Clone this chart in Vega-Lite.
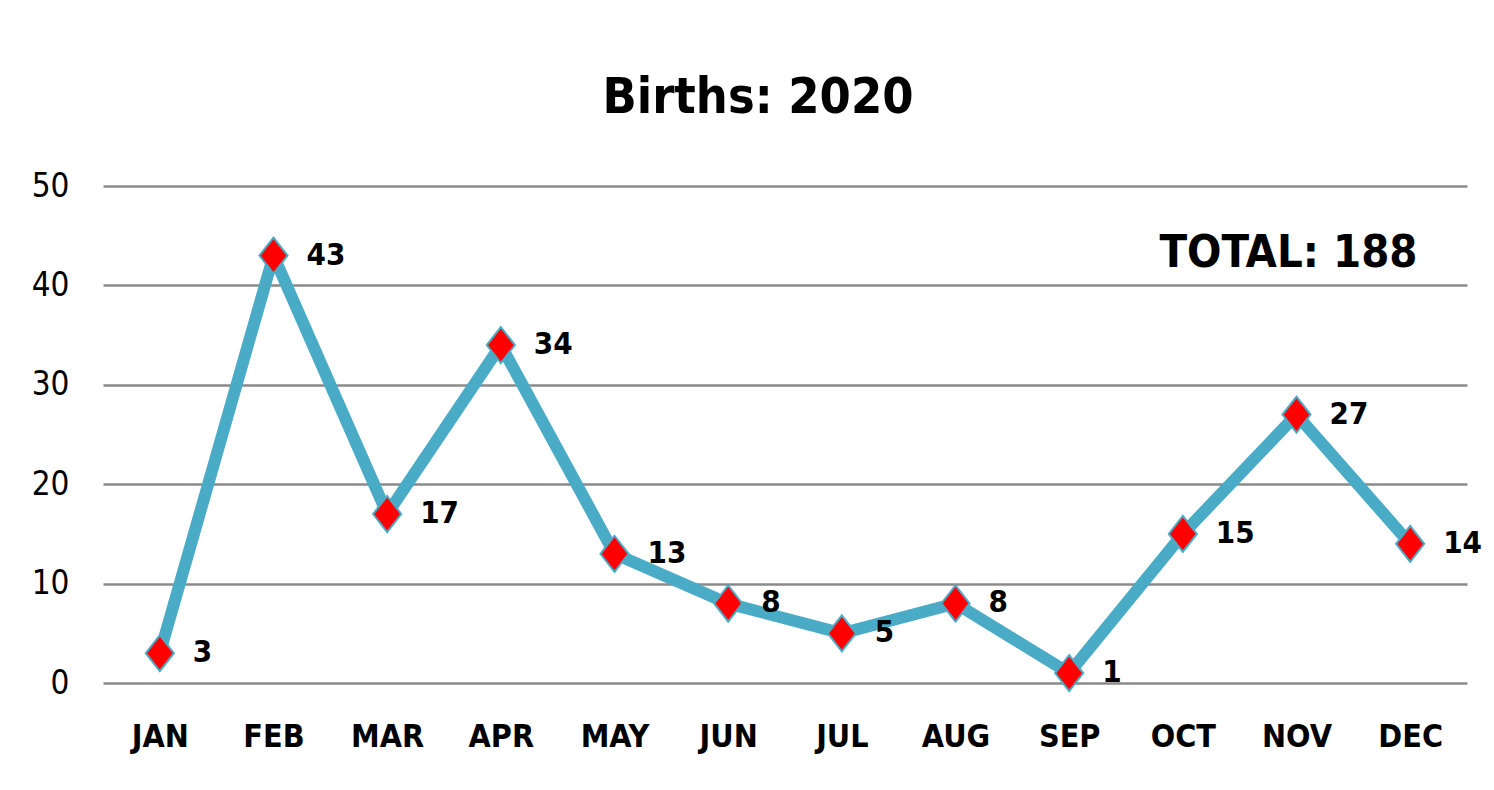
{
  "$schema": "https://vega.github.io/schema/vega-lite/v6.json",
  "autosize": {"type": "none"},
  "width": 1364,
  "height": 497,
  "padding": {"left": 103, "top": 186, "right": 27, "bottom": 107},
  "background": "white",
  "config": {
    "view": {"stroke": null},
    "font": "DejaVu Sans Condensed, sans-serif"
  },
  "title": {
    "text": "Births: 2020",
    "fontSize": 50,
    "fontWeight": "bold",
    "color": "#000000",
    "anchor": "middle",
    "frame": "group",
    "baseline": "alphabetic",
    "offset": 7,
    "dx": -27
  },
  "data": {
    "values": [
      {"month": "JAN", "births": 3},
      {"month": "FEB", "births": 43},
      {"month": "MAR", "births": 17},
      {"month": "APR", "births": 34},
      {"month": "MAY", "births": 13},
      {"month": "JUN", "births": 8},
      {"month": "JUL", "births": 5},
      {"month": "AUG", "births": 8},
      {"month": "SEP", "births": 1},
      {"month": "OCT", "births": 15},
      {"month": "NOV", "births": 27},
      {"month": "DEC", "births": 14}
    ]
  },
  "encoding": {
    "x": {
      "field": "month",
      "type": "ordinal",
      "sort": null,
      "scale": {"type": "point", "padding": 0.5},
      "axis": {
        "title": null,
        "domain": false,
        "ticks": false,
        "grid": false,
        "labelAngle": 0,
        "labelFontSize": 32,
        "labelFontWeight": "bold",
        "labelColor": "#000000",
        "labelPadding": 38
      }
    },
    "y": {
      "field": "births",
      "type": "quantitative",
      "scale": {"domain": [0, 50], "nice": false},
      "axis": {
        "title": null,
        "domain": false,
        "ticks": false,
        "values": [0, 10, 20, 30, 40, 50],
        "grid": true,
        "gridColor": "#8a8a8a",
        "gridWidth": 2.5,
        "gridOpacity": 1,
        "labelFontSize": 33,
        "labelColor": "#000000",
        "labelPadding": 34
      }
    }
  },
  "layer": [
    {
      "mark": {"type": "line", "color": "#4aabc6", "strokeWidth": 12, "strokeJoin": "miter"}
    },
    {
      "mark": {
        "type": "point",
        "shape": "M0,-1L0.78,0L0,1L-0.78,0Z",
        "size": 1300,
        "filled": true,
        "fill": "#ff0000",
        "stroke": "#4aabc6",
        "strokeWidth": 2,
        "opacity": 1
      }
    },
    {
      "mark": {
        "type": "text",
        "align": "left",
        "baseline": "middle",
        "dx": 33,
        "fontSize": 31,
        "fontWeight": "bold",
        "color": "#000000"
      },
      "encoding": {"text": {"field": "births", "type": "quantitative"}}
    },
    {
      "transform": [{"filter": "datum.month === 'NOV'"}],
      "mark": {
        "type": "text",
        "align": "center",
        "baseline": "middle",
        "dx": -8,
        "fontSize": 45,
        "fontWeight": "bold",
        "color": "#000000",
        "text": "TOTAL: 188"
      },
      "encoding": {
        "y": {"datum": 43.3}
      }
    }
  ]
}
